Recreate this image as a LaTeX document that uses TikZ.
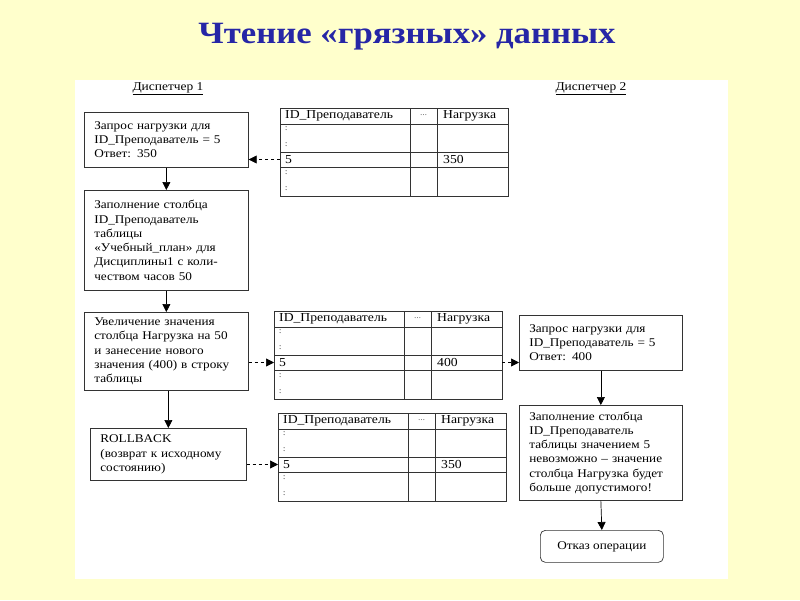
\documentclass[tikz,border=0pt]{standalone}
\usepackage{fontspec}
\setmainfont{Liberation Serif}
\newfontfamily\shirokij[FakeStretch=1.12]{Liberation Serif}
\usetikzlibrary{positioning,arrows.meta}
\definecolor{fon}{HTML}{FFFFCC}
\definecolor{zagl}{HTML}{2626A6}

% table with three columns: name, x, y, value
\newcommand{\tablica}[4]{%
  \node[ramka, minimum width=228, minimum height=88] (#1) at (#2,#3) {};
  \draw[linija] (#1.north west) ++(0,16) -- ++(228,0);
  \draw[linija] (#1.north west) ++(0,44) -- ++(228,0);
  \draw[linija] (#1.north west) ++(0,59) -- ++(228,0);
  \draw[linija] (#1.north west) ++(130,0) -- ++(0,88);
  \draw[linija] (#1.north west) ++(157,0) -- ++(0,88);
  \node[yach] at ([shift={(5,8)}]#1.north west) {ID\_Преподаватель};
  \node[font=\fontsize{7}{7}\selectfont] at ([shift={(143.5,7)}]#1.north west) {\ldots};
  \node[yach] at ([shift={(163,8)}]#1.north west) {Нагрузка};
  \foreach \dy in {21,37,65,81}
    \node[yach, font=\fontsize{8}{8}\selectfont] at ([shift={(5,\dy)}]#1.north west) {:};
  \node[yach] at ([shift={(5,51.5)}]#1.north west) {5};
  \node[yach] at ([shift={(163,51.5)}]#1.north west) {#4};
  \coordinate (#1-l) at ([shift={(0,51.5)}]#1.north west);
  \coordinate (#1-r) at ([shift={(228,51.5)}]#1.north west);
}

\begin{document}
\begin{tikzpicture}[x=1pt, y=-1pt,
  ramka/.style={draw=black!80, line width=0.7pt, anchor=north west, inner sep=0pt},
  linija/.style={draw=black!80, line width=0.7pt},
  blok/.style={ramka, inner xsep=10pt, align=left, font=\shirokij\fontsize{11.8}{14.3}\selectfont},
  yach/.style={anchor=west, inner sep=0pt, font=\shirokij\fontsize{12.2}{13}\selectfont},
  strelka/.style={-{Triangle[length=8pt,width=8pt]}, line width=0.7pt},
  pstrelka/.style={strelka, dashed}]

  \fill[fon] (0,0) rectangle (800,600);
  \fill[white] (75,80) rectangle (728,579);

  \node[font=\shirokij\fontsize{31}{33}\selectfont\bfseries, text=zagl] (zagolovok) at (407,37)
    {Чтение «грязных» данных};

  \node[font=\shirokij\fontsize{12}{13}\selectfont] (disp1) at (168,89) {\underline{Диспетчер 1}};
  \node[font=\shirokij\fontsize{12}{13}\selectfont] (disp2) at (591,89) {\underline{Диспетчер 2}};

  % dispatcher 1
  \node[blok, text width=144, minimum height=55] (zapros1) at (84,112)
    {Запрос нагрузки для\\ID\_Преподаватель = 5\\Ответ: 350};
  \node[blok, text width=144, minimum height=100] (zapolnenie1) at (84,190)
    {Заполнение столбца\\ID\_Преподаватель\\таблицы\\«Учебный\_план» для\\Дисциплины1 с коли-\\чеством часов 50};
  \node[blok, text width=144, minimum height=78] (uvelichenie) at (84,312)
    {Увеличение значения\\столбца Нагрузка на 50\\и занесение нового\\значения (400) в строку\\таблицы};
  \node[blok, text width=136, minimum height=52] (rollback) at (90,428)
    {ROLLBACK\\(возврат к исходному\\состоянию)};

  % dispatcher 2
  \node[blok, text width=143, minimum height=55] (zapros2) at (519,315)
    {Запрос нагрузки для\\ID\_Преподаватель = 5\\Ответ: 400};
  \node[blok, text width=143, minimum height=95] (zapolnenie2) at (519,405)
    {Заполнение столбца\\ID\_Преподаватель\\таблицы значением 5\\невозможно – значение\\столбца Нагрузка будет\\больше допустимого!};
  \node[blok, rounded corners=5pt, align=center, minimum width=123, minimum height=32] (otkaz) at (540,530)
    {Отказ операции};

  % tables
  \tablica{tab1}{280}{108}{350}
  \tablica{tab2}{274}{311}{400}
  \tablica{tab3}{278}{413}{350}

  % arrows
  \draw[strelka] (zapros1.south) -- (zapolnenie1.north);
  \draw[strelka] (zapolnenie1.south) -- (uvelichenie.north);
  \draw[strelka] (uvelichenie.south -| rollback.north) -- (rollback.north);
  \draw[strelka] (zapros2.south) -- (zapolnenie2.north);
  \draw[strelka] (zapolnenie2.south) -- (otkaz.north);

  \draw[pstrelka] (tab1-l) -- (tab1-l -| zapros1.east);
  \draw[pstrelka] (tab2-l -| uvelichenie.east) -- (tab2-l);
  \draw[pstrelka] (tab2-r) -- (tab2-r -| zapros2.west);
  \draw[pstrelka] (tab3-l -| rollback.east) -- (tab3-l);
\end{tikzpicture}
\end{document}
